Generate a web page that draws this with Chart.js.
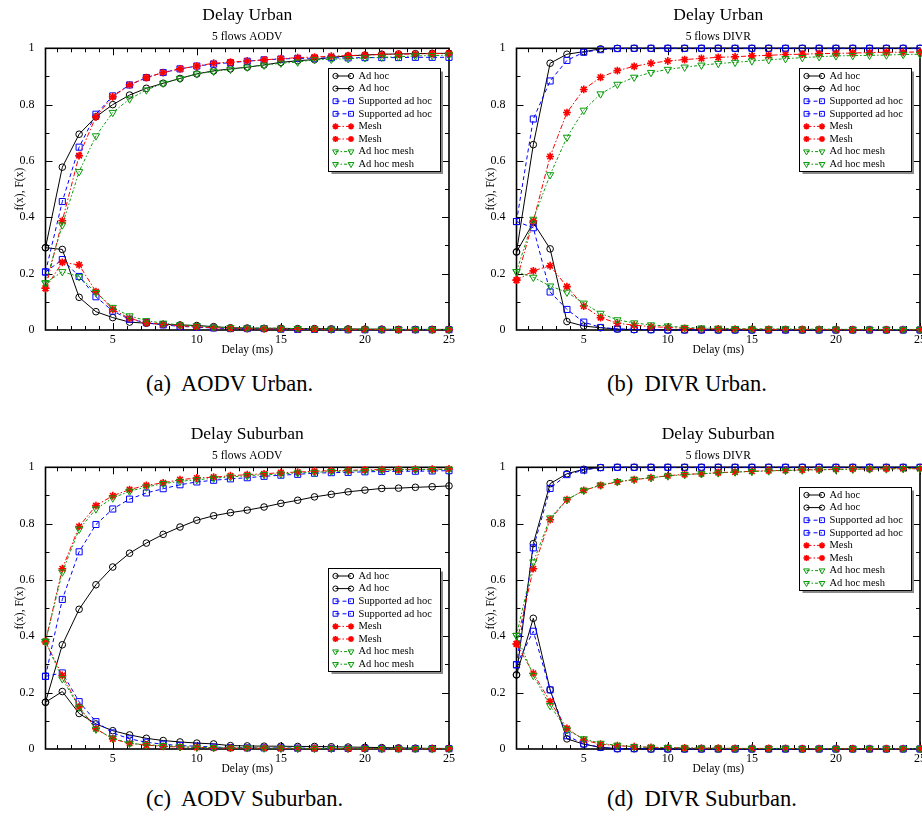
<!DOCTYPE html>
<html><head><meta charset="utf-8">
<script src="https://cdn.jsdelivr.net/npm/chart.js@4.4.1/dist/chart.umd.min.js"></script>
<style>
html,body{margin:0;padding:0;background:#fff;overflow:hidden;}
#fig{position:relative;width:922px;height:817px;overflow:hidden;background:#fff;}
.panel{position:absolute;width:460px;height:357px;}
.panel canvas{display:block;}
.cap{position:absolute;font-family:"Liberation Serif","Times New Roman",serif;font-size:22.5px;color:#000;white-space:pre;line-height:1;}
</style></head>
<body><div id="fig">
<div class="panel" style="left:0;top:0"><canvas id="cA" width="460" height="357"></canvas></div>
<div class="panel" style="left:471px;top:0"><canvas id="cB" width="460" height="357"></canvas></div>
<div class="panel" style="left:0;top:419px"><canvas id="cC" width="460" height="357"></canvas></div>
<div class="panel" style="left:471px;top:419px"><canvas id="cD" width="460" height="357"></canvas></div>
<div class="cap" style="left:146px;top:373px">(a)  AODV Urban.</div>
<div class="cap" style="left:607px;top:373px">(b)  DIVR Urban.</div>
<div class="cap" style="left:146px;top:788px">(c)  AODV Suburban.</div>
<div class="cap" style="left:607px;top:788px">(d)  DIVR Suburban.</div>
</div>
<script>
// ---------- data ----------
const delays = [1,2,3,4,5,6,7,8,9,10,11,12,13,14,15,16,17,18,19,20,21,22,23,24,25];
const xTickValues = [5,10,15,20,25];
const xTickLabels = ['5','10','15','20','25'];
const yTickValues = [0,0.2,0.4,0.6,0.8,1];
const yTickLabels = ['0','0.2','0.4','0.6','0.8','1'];
const seriesNames = ['Ad hoc','Supported ad hoc','Mesh','Ad hoc mesh'];
const xAxisTitle = 'Delay (ms)';
const yAxisTitle = 'f(x), F(x)';
const panelTitles = ['Delay Urban','Delay Urban','Delay Suburban','Delay Suburban'];
const panelSubtitles = ['5 flows AODV','5 flows DIVR','5 flows AODV','5 flows DIVR'];

// (a) AODV Urban
const aodvUrbanAdhocPdf = [0.292,0.286,0.116,0.065,0.044,0.028,0.024,0.020,0.018,0.016,0.012,0.008,0.007,0.006,0.006,0.005,0.005,0.004,0.004,0.003,0.003,0.002,0.002,0.002,0.002];
const aodvUrbanAdhocCdf = [0.292,0.578,0.695,0.757,0.800,0.834,0.858,0.876,0.893,0.909,0.920,0.927,0.933,0.941,0.950,0.956,0.960,0.968,0.973,0.976,0.979,0.980,0.981,0.982,0.982];
const aodvUrbanSupportedPdf = [0.206,0.250,0.190,0.118,0.067,0.038,0.026,0.018,0.013,0.010,0.007,0.005,0.005,0.005,0.003,0.002,0.002,0.002,0.001,0.001,0.001,0.001,0.001,0.001,0.001];
const aodvUrbanSupportedCdf = [0.206,0.456,0.649,0.766,0.831,0.870,0.896,0.914,0.927,0.937,0.944,0.949,0.954,0.959,0.962,0.964,0.965,0.966,0.966,0.967,0.967,0.967,0.968,0.968,0.968];
const aodvUrbanMeshPdf = [0.148,0.240,0.231,0.136,0.073,0.041,0.026,0.020,0.015,0.012,0.008,0.006,0.005,0.004,0.004,0.003,0.003,0.002,0.002,0.002,0.002,0.001,0.001,0.001,0.001];
const aodvUrbanMeshCdf = [0.148,0.388,0.619,0.757,0.828,0.870,0.896,0.914,0.927,0.937,0.947,0.951,0.955,0.959,0.963,0.967,0.969,0.972,0.974,0.976,0.978,0.979,0.980,0.981,0.982];
const aodvUrbanAdhocMeshPdf = [0.167,0.207,0.189,0.133,0.080,0.050,0.033,0.024,0.018,0.015,0.010,0.008,0.007,0.007,0.006,0.005,0.004,0.003,0.003,0.003,0.002,0.002,0.002,0.002,0.002];
const aodvUrbanAdhocMeshCdf = [0.167,0.373,0.562,0.689,0.772,0.820,0.852,0.876,0.893,0.909,0.918,0.925,0.933,0.940,0.947,0.951,0.959,0.961,0.963,0.966,0.968,0.970,0.973,0.974,0.976];

// (b) DIVR Urban
const divrUrbanAdhocPdf = [0.277,0.381,0.288,0.030,0.014,0.008,0.003,0.001,0.001,0,0,0,0,0,0,0,0,0,0,0,0,0,0,0,0];
const divrUrbanAdhocCdf = [0.277,0.658,0.947,0.979,0.988,0.998,1,1,1,1,1,1,1,1,1,1,1,1,1,1,1,1,1,1,1];
const divrUrbanSupportedPdf = [0.385,0.363,0.135,0.073,0.028,0.009,0.004,0.002,0.001,0,0,0,0,0,0,0,0,0,0,0,0,0,0,0,0];
const divrUrbanSupportedCdf = [0.385,0.749,0.884,0.957,0.986,0.995,0.999,1,1,1,1,1,1,1,1,1,1,1,1,1,1,1,1,1,1];
const divrUrbanMeshPdf = [0.177,0.210,0.228,0.154,0.085,0.044,0.024,0.017,0.012,0.009,0.006,0.004,0.004,0.003,0.003,0.002,0.002,0.002,0.002,0.001,0.001,0.001,0.001,0.001,0.001];
const divrUrbanMeshCdf = [0.177,0.387,0.616,0.772,0.854,0.897,0.921,0.936,0.947,0.955,0.960,0.964,0.968,0.970,0.973,0.975,0.978,0.979,0.981,0.982,0.983,0.985,0.986,0.986,0.987];
const divrUrbanAdhocMeshPdf = [0.207,0.187,0.156,0.134,0.095,0.059,0.036,0.025,0.018,0.014,0.009,0.007,0.006,0.005,0.004,0.004,0.004,0.003,0.003,0.003,0.002,0.002,0.002,0.002,0.002];
const divrUrbanAdhocMeshCdf = [0.207,0.393,0.551,0.684,0.780,0.838,0.872,0.897,0.914,0.925,0.933,0.940,0.946,0.950,0.955,0.959,0.963,0.967,0.970,0.973,0.974,0.975,0.976,0.978,0.979];

// (c) AODV Suburban
const aodvSuburbanAdhocPdf = [0.166,0.204,0.126,0.089,0.065,0.050,0.038,0.030,0.025,0.021,0.018,0.012,0.011,0.010,0.010,0.009,0.009,0.008,0.007,0.006,0.005,0.004,0.003,0.002,0.002];
const aodvSuburbanAdhocCdf = [0.166,0.370,0.496,0.583,0.646,0.695,0.731,0.762,0.788,0.812,0.828,0.839,0.848,0.859,0.872,0.883,0.895,0.904,0.913,0.919,0.925,0.926,0.929,0.931,0.934];
const aodvSuburbanSupportedPdf = [0.258,0.270,0.168,0.097,0.057,0.036,0.024,0.017,0.012,0.010,0.007,0.005,0.004,0.004,0.004,0.003,0.003,0.002,0.002,0.002,0.001,0.001,0.001,0.001,0.001];
const aodvSuburbanSupportedCdf = [0.258,0.531,0.700,0.797,0.852,0.887,0.909,0.924,0.938,0.948,0.954,0.959,0.963,0.968,0.972,0.975,0.979,0.981,0.982,0.984,0.985,0.986,0.986,0.987,0.988];
const aodvSuburbanMeshPdf = [0.381,0.261,0.150,0.072,0.036,0.020,0.014,0.009,0.007,0.006,0.004,0.003,0.003,0.003,0.002,0.002,0.002,0.002,0.001,0.001,0.001,0.001,0.001,0.001,0.001];
const aodvSuburbanMeshCdf = [0.381,0.640,0.790,0.864,0.899,0.921,0.936,0.945,0.956,0.962,0.965,0.970,0.974,0.977,0.981,0.983,0.986,0.988,0.989,0.991,0.992,0.992,0.993,0.993,0.994];
const aodvSuburbanAdhocMeshPdf = [0.382,0.249,0.148,0.070,0.038,0.020,0.015,0.012,0.008,0.006,0.005,0.004,0.004,0.003,0.003,0.002,0.002,0.002,0.002,0.001,0.001,0.001,0.001,0.001,0.001];
const aodvSuburbanAdhocMeshCdf = [0.382,0.628,0.780,0.852,0.891,0.915,0.930,0.942,0.950,0.956,0.961,0.966,0.970,0.974,0.976,0.980,0.982,0.985,0.987,0.988,0.989,0.991,0.992,0.992,0.993];

// (d) DIVR Suburban
const divrSuburbanAdhocPdf = [0.263,0.464,0.210,0.036,0.017,0.006,0.001,0.001,0,0,0,0,0,0,0,0,0,0,0,0,0,0,0,0,0];
const divrSuburbanAdhocCdf = [0.263,0.729,0.942,0.977,0.993,0.999,1,1,1,1,1,1,1,1,1,1,1,1,1,1,1,1,1,1,1];
const divrSuburbanSupportedPdf = [0.299,0.418,0.210,0.047,0.018,0.006,0.001,0.001,0,0,0,0,0,0,0,0,0,0,0,0,0,0,0,0,0];
const divrSuburbanSupportedCdf = [0.299,0.714,0.925,0.974,0.990,0.999,1,1,1,1,1,1,1,1,1,1,1,1,1,1,1,1,1,1,1];
const divrSuburbanMeshPdf = [0.373,0.269,0.168,0.073,0.032,0.017,0.012,0.008,0.006,0.005,0.004,0.003,0.003,0.002,0.002,0.002,0.002,0.001,0.001,0.001,0.001,0.001,0.001,0.001,0.001];
const divrSuburbanMeshCdf = [0.373,0.640,0.814,0.885,0.918,0.936,0.948,0.956,0.963,0.970,0.975,0.977,0.981,0.983,0.986,0.988,0.989,0.991,0.992,0.993,0.994,0.994,0.995,0.995,0.995];
const divrSuburbanAdhocMeshPdf = [0.403,0.261,0.154,0.068,0.036,0.020,0.013,0.008,0.006,0.005,0.004,0.003,0.003,0.002,0.002,0.002,0.002,0.001,0.001,0.001,0.001,0.001,0.001,0.001,0.001];
const divrSuburbanAdhocMeshCdf = [0.403,0.664,0.820,0.885,0.918,0.937,0.949,0.957,0.963,0.969,0.974,0.977,0.980,0.983,0.985,0.987,0.989,0.990,0.991,0.992,0.993,0.994,0.994,0.995,0.995];

// ---------- styles ----------
const SERIF = '"Liberation Serif", "Times New Roman", serif';
const styles = [
  {color:'#000000', pointStyle:'circle',   radius:3.3, rotation:0,   dash:[],          pw:1},
  {color:'#0000ff', pointStyle:'rect',     radius:4.3, rotation:0,   dash:[4,3],       pw:1},
  {color:'#ff0000', pointStyle:'star',     radius:3.9, rotation:0,   dash:[5,2,1.5,2], pw:1.6},
  {color:'#0a9a0a', pointStyle:'triangle', radius:4.2, rotation:180, dash:[3,2,1.5,2], pw:1}
];

function series(label, values, st, order) {
  return {
    label, order,
    data: delays.map((d, i) => ({x: d, y: values[i]})),
    borderColor: st.color, backgroundColor: st.color, borderWidth: 1,
    borderDash: st.dash, pointStyle: st.pointStyle, pointRotation: st.rotation,
    pointRadius: st.radius, pointBorderWidth: st.pw,
    pointBackgroundColor: 'rgba(0,0,0,0)', pointBorderColor: st.color,
    tension: 0, fill: false, clip: false
  };
}
function panelSets(groups) {
  const out = [];
  groups.forEach((g, k) => {
    out.push(series(seriesNames[k], g[0], styles[k], 10 - out.length));
    out.push(series(seriesNames[k], g[1], styles[k], 10 - out.length));
  });
  return out;
}

// ---------- plugins ----------
const frameTicks = {
  id: 'frameTicks',
  beforeDatasetsDraw(chart) {
    const {ctx, chartArea: a, scales: {x: xs, y: ys}} = chart;
    ctx.save();
    ctx.strokeStyle = '#000';
    ctx.lineWidth = 1;
    ctx.beginPath();
    const seg = (x1, y1, x2, y2) => { ctx.moveTo(x1, y1); ctx.lineTo(x2, y2); };
    const xStep = 5 / 6;
    for (let k = 1; k * xStep < xs.max + 1e-6; k++) {
      const v = k * xStep;
      if (v <= xs.min + 1e-6) continue;
      const major = Math.abs(v / 5 - Math.round(v / 5)) < 1e-6;
      const len = major ? 7 : 4;
      const px = Math.round(xs.getPixelForValue(v)) + 0.5;
      seg(px, a.bottom, px, a.bottom - len);
      seg(px, a.top, px, a.top + len);
    }
    for (let k = 1; k < 10; k++) {
      const v = k / 10;
      const len = (k % 2 === 0) ? 7 : 4;
      const py = Math.round(ys.getPixelForValue(v)) + 0.5;
      seg(a.left, py, a.left + len, py);
      seg(a.right, py, a.right - len, py);
    }
    ctx.stroke();
    ctx.lineWidth = 1.6;
    ctx.strokeRect(a.left, a.top, a.right - a.left, a.bottom - a.top);
    ctx.restore();
  }
};

const boxLegend = {
  id: 'boxLegend',
  afterDraw(chart, args, opts) {
    const {ctx, chartArea: a} = chart;
    const H = Chart.helpers;
    const x0 = Math.round(a.left + opts.dx) + 0.5, y0 = Math.round(a.top + opts.dy) + 0.5;
    const w = opts.w, h = opts.h;
    ctx.save();
    ctx.fillStyle = '#fff';
    ctx.fillRect(x0, y0, w, h);
    ctx.strokeStyle = '#8a8a8a';
    ctx.lineWidth = 2;
    ctx.beginPath();
    ctx.moveTo(x0 + w + 1.5, y0 + 3); ctx.lineTo(x0 + w + 1.5, y0 + h + 1.5); ctx.lineTo(x0 + 3, y0 + h + 1.5);
    ctx.stroke();
    ctx.strokeStyle = '#000';
    ctx.lineWidth = 1;
    ctx.strokeRect(x0, y0, w, h);
    chart.data.datasets.forEach((d, i) => {
      const cy = y0 + opts.first + i * opts.row;
      const lx1 = x0 + 7, lx2 = x0 + 22.5;
      ctx.strokeStyle = d.borderColor;
      ctx.lineWidth = 1;
      ctx.setLineDash(d.borderDash || []);
      ctx.beginPath(); ctx.moveTo(lx1, cy); ctx.lineTo(lx2, cy); ctx.stroke();
      ctx.setLineDash([]);
      ctx.fillStyle = 'rgba(0,0,0,0)';
      ctx.lineWidth = d.pointBorderWidth;
      const po = {pointStyle: d.pointStyle, rotation: d.pointRotation, radius: d.pointRadius * 0.8, borderWidth: d.pointBorderWidth};
      H.drawPoint(ctx, po, lx1, cy);
      H.drawPoint(ctx, po, lx2, cy);
      ctx.fillStyle = '#000';
      ctx.font = '10.5px ' + SERIF;
      ctx.textBaseline = 'middle';
      ctx.textAlign = 'left';
      ctx.fillText(d.label, x0 + 30, cy);
    });
    ctx.restore();
  }
};

// ---------- charts ----------
function makeChart(id, idx, sets, legendDy) {
  return new Chart(document.getElementById(id), {
    type: 'line',
    data: {datasets: sets},
    options: {
      responsive: false, animation: false, devicePixelRatio: 1,
      layout: {padding: {left: 0, right: 11, top: 0, bottom: 0}},
      plugins: {
        legend: {display: false}, tooltip: {enabled: false},
        title: {display: true, fullSize: false, text: panelTitles[idx], color: '#000',
                font: {family: SERIF, size: 17.5, weight: 'normal'}, padding: {top: 4.5, bottom: 1}},
        subtitle: {display: true, fullSize: false, text: panelSubtitles[idx], color: '#000',
                   font: {family: SERIF, size: 11.5, weight: 'normal'}, padding: {top: 3.6, bottom: 4.4}},
        boxLegend: {dx: 282.5, dy: legendDy, w: 112, h: 103, first: 7.5, row: 12.6}
      },
      scales: {
        x: {
          type: 'linear', min: 1, max: 25,
          grid: {display: false}, border: {display: false},
          afterBuildTicks: s => { s.ticks = xTickValues.map(v => ({value: v})); },
          afterFit: s => { s.height = 27; },
          ticks: {color: '#000', font: {family: SERIF, size: 12}, padding: -5.5, autoSkip: false, maxRotation: 0,
                  callback: (v, i) => xTickLabels[i]},
          title: {display: true, text: xAxisTitle, color: '#000', font: {family: SERIF, size: 11.5}, padding: {top: 0, bottom: 0}}
        },
        y: {
          type: 'linear', min: 0, max: 1,
          grid: {display: false}, border: {display: false},
          afterBuildTicks: s => { s.ticks = yTickValues.map(v => ({value: v})); },
          afterFit: s => { s.width = 45.5; },
          ticks: {color: '#000', font: {family: SERIF, size: 12}, padding: 3, autoSkip: false,
                  callback: (v, i) => yTickLabels[i]},
          title: {display: true, text: yAxisTitle, color: '#000', font: {family: SERIF, size: 11.5}, padding: {top: 13.2, bottom: 0}}
        }
      }
    },
    plugins: [frameTicks, boxLegend]
  });
}

makeChart('cA', 0, panelSets([
  [aodvUrbanAdhocPdf, aodvUrbanAdhocCdf],
  [aodvUrbanSupportedPdf, aodvUrbanSupportedCdf],
  [aodvUrbanMeshPdf, aodvUrbanMeshCdf],
  [aodvUrbanAdhocMeshPdf, aodvUrbanAdhocMeshCdf]]), 19.7);
makeChart('cB', 1, panelSets([
  [divrUrbanAdhocPdf, divrUrbanAdhocCdf],
  [divrUrbanSupportedPdf, divrUrbanSupportedCdf],
  [divrUrbanMeshPdf, divrUrbanMeshCdf],
  [divrUrbanAdhocMeshPdf, divrUrbanAdhocMeshCdf]]), 19.7);
makeChart('cC', 2, panelSets([
  [aodvSuburbanAdhocPdf, aodvSuburbanAdhocCdf],
  [aodvSuburbanSupportedPdf, aodvSuburbanSupportedCdf],
  [aodvSuburbanMeshPdf, aodvSuburbanMeshCdf],
  [aodvSuburbanAdhocMeshPdf, aodvSuburbanAdhocMeshCdf]]), 101);
makeChart('cD', 3, panelSets([
  [divrSuburbanAdhocPdf, divrSuburbanAdhocCdf],
  [divrSuburbanSupportedPdf, divrSuburbanSupportedCdf],
  [divrSuburbanMeshPdf, divrSuburbanMeshCdf],
  [divrSuburbanAdhocMeshPdf, divrSuburbanAdhocMeshCdf]]), 19.7);
</script>
</body></html>
